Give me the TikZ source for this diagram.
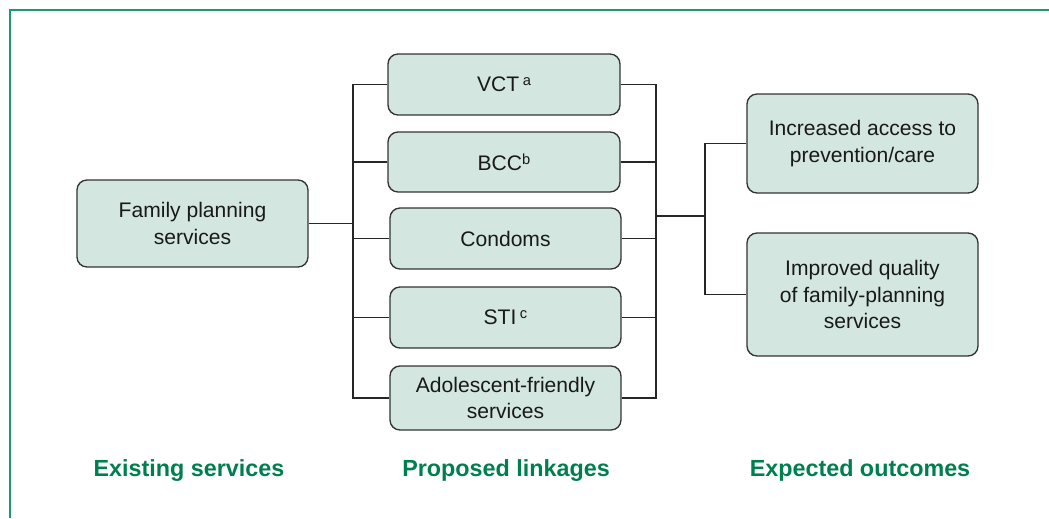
\documentclass[tikz,border=0pt]{standalone}
\usepackage{fontspec}
\setmainfont{Liberation Sans}
\definecolor{boxfill}{HTML}{D3E6DF}
\definecolor{boxdraw}{HTML}{333333}
\definecolor{titlegreen}{HTML}{007F4E}
\definecolor{framegreen}{HTML}{1E9A6A}
\newcommand{\supx}[1]{\raisebox{0.55ex}{\fontsize{11}{11}\selectfont #1}}
\begin{document}
\begin{tikzpicture}[x=0.75pt,y=-0.75pt,
  box/.style={draw=boxdraw,fill=boxfill,line width=1pt,rounded corners=7.5pt,
    align=center,inner sep=0pt,font=\fontsize{15.8}{20}\selectfont,text=black!90},
  conn/.style={draw=black!85,line width=0.8pt},
  title/.style={font=\fontsize{17.5}{21}\selectfont\bfseries,text=titlegreen,anchor=base}]
\useasboundingbox (0,0) rectangle (1049,518);
\draw[framegreen,line width=1pt] (10,518) -- (10,10) -- (1049,10);

\node[box,minimum width=231*0.75pt,minimum height=87*0.75pt] (fam) at (192.5,223.5) {Family planning\\services};

\node[box,minimum width=232*0.75pt,minimum height=61*0.75pt] (vct) at (504,84.5) {VCT\,\supx{a}};
\node[box,minimum width=232*0.75pt,minimum height=60*0.75pt] (bcc) at (504,162) {BCC\supx{b}};
\node[box,minimum width=231*0.75pt,minimum height=61*0.75pt] (con) at (505.5,238.5) {Condoms};
\node[box,minimum width=231*0.75pt,minimum height=61*0.75pt] (sti) at (505.5,317.5) {STI\,\supx{c}};
\node[box,minimum width=231*0.75pt,minimum height=64*0.75pt] (ado) at (505.5,398) {Adolescent-friendly\\services};

\node[box,minimum width=231*0.75pt,minimum height=99*0.75pt] (inc) at (862.5,143.5) {Increased access to\\prevention/care};
\node[box,minimum width=231*0.75pt,minimum height=123*0.75pt] (imp) at (862.5,294.5) {Improved quality\\of family-planning\\services};

\coordinate (L0) at (353,223.5);
\coordinate (R0) at (656,216);
\coordinate (R1) at (705,216);

\draw[conn] (fam.east) -- (L0);
\draw[conn] (vct.west) -| (L0) |- (ado.west);
\draw[conn] (bcc.west) -- (bcc.west -| L0);
\draw[conn] (con.west) -- (con.west -| L0);
\draw[conn] (sti.west) -- (sti.west -| L0);

\draw[conn] (vct.east) -| (R0) |- (ado.east);
\draw[conn] (bcc.east) -- (bcc.east -| R0);
\draw[conn] (con.east) -- (con.east -| R0);
\draw[conn] (sti.east) -- (sti.east -| R0);
\draw[conn] (R0) -- (R1);
\draw[conn] (inc.west) -| (R1) |- (imp.west);

\node[title] (t1) at (189,476) {Existing services};
\node[title] (t2) at (506,476) {Proposed linkages};
\node[title] (t3) at (860,476) {Expected outcomes};
\end{tikzpicture}
\end{document}
